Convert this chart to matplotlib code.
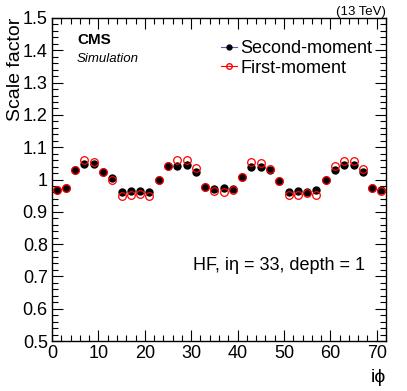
import numpy as np
import matplotlib.pyplot as plt
from matplotlib.lines import Line2D
from matplotlib.ticker import MultipleLocator, FuncFormatter

plt.rcParams['font.family'] = ['Liberation Sans', 'DejaVu Sans']

# HF odd iphi channels
iphi = list(range(1, 72, 2))

second_moment = [0.967, 0.973, 1.029, 1.047, 1.047, 1.024, 1.006, 0.960, 0.963, 0.965,
                 0.961, 0.997, 1.042, 1.042, 1.046, 1.022, 0.978, 0.970, 0.973, 0.972,
                 1.007, 1.039, 1.038, 1.030, 0.995, 0.960, 0.964, 0.962, 0.966, 0.998,
                 1.028, 1.044, 1.045, 1.024, 0.975, 0.968]
first_moment = [0.967, 0.973, 1.030, 1.060, 1.054, 1.024, 0.998, 0.950, 0.952, 0.955,
                0.949, 0.997, 1.042, 1.060, 1.060, 1.037, 0.978, 0.963, 0.962, 0.966,
                1.007, 1.053, 1.052, 1.034, 0.995, 0.951, 0.953, 0.957, 0.953, 0.998,
                1.041, 1.056, 1.058, 1.033, 0.975, 0.964]

fig = plt.figure(figsize=(4.07, 3.91), dpi=100)
ax = fig.add_axes([52/407, 1 - 341/391, (386-52)/407, (341-18)/391])

ax.plot(iphi, second_moment, 'o', color='black', ms=5, zorder=3)
ax.plot(iphi, first_moment, 'o', mfc='none', mec='red', mew=0.9, ms=5.5, zorder=4)

ax.set_xlim(0, 72)
ax.set_ylim(0.5, 1.5)
ax.xaxis.set_major_locator(MultipleLocator(10))
ax.xaxis.set_minor_locator(MultipleLocator(2))
ax.yaxis.set_major_locator(MultipleLocator(0.1))
ax.yaxis.set_minor_locator(MultipleLocator(0.02))
ax.yaxis.set_major_formatter(FuncFormatter(lambda v, p: f"{v:g}"))
ax.tick_params(which='both', direction='in', top=True, right=True, labelsize=13)
ax.tick_params(which='major', length=8, width=0.8)
ax.tick_params(which='minor', length=4, width=0.8)
ax.tick_params(axis='x', pad=3)
ax.tick_params(axis='y', pad=3)
for s in ax.spines.values():
    s.set_linewidth(1.0)

ax.set_ylabel("Scale factor", fontsize=14, loc='top', labelpad=-1)
ax.set_xlabel("i\u03d5", fontsize=14, loc='right', labelpad=5)

ax.text(0.075, 0.92, "CMS", transform=ax.transAxes, fontsize=11, fontweight='bold')
ax.text(0.075, 0.865, "Simulation", transform=ax.transAxes, fontsize=9.5, style='italic')
fig.text(386/407, 1 - 12/391, "(13 TeV)", ha='right', va='center', fontsize=9.5)
ax.text(0.937, 0.235, "HF, i\u03b7 = 33, depth = 1", transform=ax.transAxes,
        ha='right', va='center', fontsize=13)

handles = [
    Line2D([], [], color='#5b5bb0', lw=0.8, marker='o', ms=3.5, mfc='black', mec='black'),
    Line2D([], [], color='red', lw=0.8, marker='o', ms=4, mfc='none', mec='red'),
]
ax.legend(handles, ["Second-moment", "First-moment"], loc='upper right',
          bbox_to_anchor=(0.987, 0.96), frameon=False, fontsize=13,
          handlelength=0.9, handletextpad=0.2, labelspacing=0.15, borderpad=0)

fig.savefig("out.png", dpi=100)
